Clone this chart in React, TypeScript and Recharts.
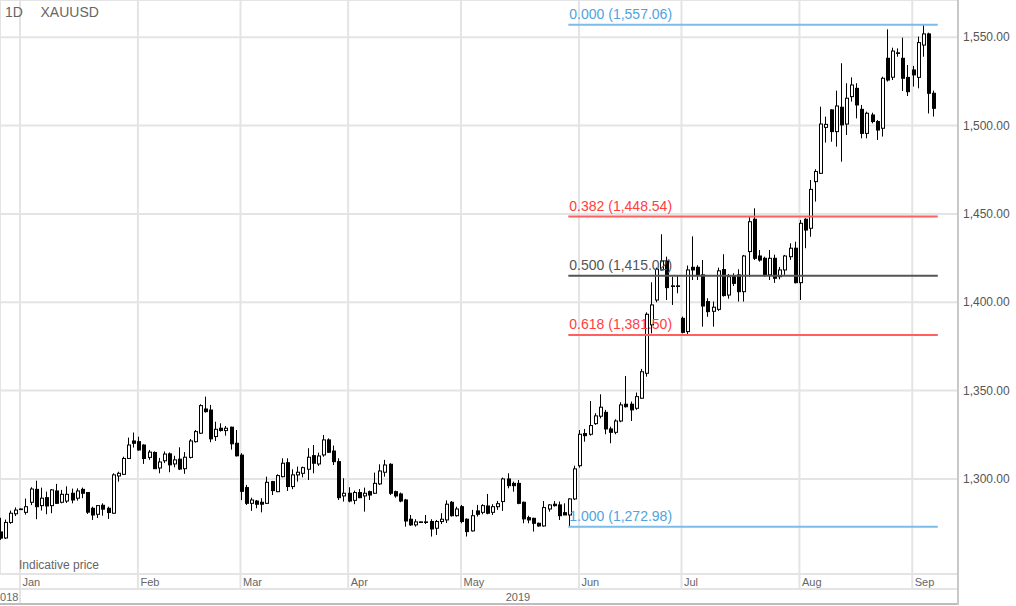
import React from "react";
import { ComposedChart, Bar, XAxis, YAxis, CartesianGrid, ReferenceLine } from "recharts";

// daily XAUUSD candles, 26 Dec 2018 .. 6 Sep 2019 (bar index = position)
const opens = [
  1270.0, 1266.6, 1275.4, 1280.3, 1282.8, 1281.1, 1286.8, 1294.1, 1284.9, 1289.4,
  1284.9, 1293.2, 1286.8, 1287.5, 1291.9, 1289.1, 1294.1, 1292.3, 1283.4, 1280.0,
  1285.1, 1283.4, 1280.6, 1301.7, 1302.6, 1311.6, 1321.5, 1321.1, 1319.2, 1312.2,
  1315.0, 1306.2, 1310.3, 1314.2, 1308.5, 1311.2, 1305.8, 1312.2, 1321.1, 1325.9,
  1339.6, 1339.0, 1324.0, 1328.7, 1327.4, 1329.3, 1320.2, 1313.5, 1295.1, 1286.2,
  1287.5, 1286.8, 1286.2, 1298.5, 1292.8, 1301.3, 1309.2, 1295.7, 1302.3, 1303.2,
  1305.5, 1313.2, 1308.5, 1313.6, 1322.1, 1315.8, 1309.8, 1290.4, 1291.9, 1287.9,
  1292.3, 1290.4, 1292.8, 1291.9, 1297.2, 1303.8, 1308.3, 1292.8, 1291.5, 1288.1,
  1277.2, 1274.0, 1275.6, 1275.5, 1275.9, 1272.1, 1275.9, 1276.8, 1286.8, 1279.2,
  1284.3, 1277.2, 1270.6, 1281.9, 1281.1, 1284.7, 1281.1, 1284.3, 1287.2, 1300.0,
  1297.5, 1297.5, 1286.8, 1278.1, 1277.7, 1274.9, 1273.4, 1283.0, 1285.7, 1285.3,
  1280.9, 1279.6, 1288.7, 1307.5, 1325.7, 1325.3, 1331.3, 1335.5, 1337.7, 1328.3,
  1326.4, 1332.8, 1342.3, 1342.3, 1340.0, 1345.7, 1359.8, 1387.2, 1401.3, 1418.3,
  1423.4, 1409.1, 1409.1, 1390.9, 1383.4, 1419.8, 1419.8, 1415.5, 1400.4, 1394.9,
  1396.0, 1418.5, 1404.1, 1414.9, 1415.5, 1406.0, 1428.7, 1447.0, 1426.2, 1424.9,
  1415.5, 1424.9, 1414.5, 1418.3, 1425.8, 1430.6, 1411.1, 1447.0, 1441.9, 1468.3,
  1473.0, 1499.0, 1508.9, 1496.6, 1510.4, 1500.9, 1516.4, 1521.1, 1509.2, 1495.6,
  1506.0, 1502.3, 1498.5, 1538.1, 1527.4, 1540.9, 1538.1, 1527.3, 1531.5, 1527.3,
  1545.6, 1551.9, 1518.3,
];
const highs = [
  1278.0, 1277.0, 1282.1, 1283.9, 1283.3, 1288.9, 1295.3, 1299.0, 1295.1, 1292.8,
  1294.3, 1297.2, 1293.8, 1295.8, 1294.5, 1294.7, 1295.1, 1292.6, 1284.3, 1285.2,
  1286.2, 1284.3, 1303.2, 1304.1, 1312.6, 1323.4, 1326.3, 1323.9, 1319.6, 1316.4,
  1315.6, 1311.9, 1315.6, 1315.0, 1313.1, 1317.9, 1315.2, 1322.6, 1327.7, 1342.3,
  1346.6, 1341.9, 1332.4, 1331.5, 1330.0, 1329.6, 1327.7, 1314.6, 1296.6, 1289.4,
  1288.1, 1289.1, 1301.3, 1298.9, 1302.6, 1311.7, 1311.7, 1305.5, 1307.0, 1307.0,
  1317.4, 1319.2, 1314.9, 1324.9, 1323.0, 1318.9, 1311.7, 1300.4, 1295.3, 1293.4,
  1294.3, 1295.1, 1293.4, 1303.6, 1308.3, 1310.8, 1308.9, 1293.4, 1292.3, 1288.7,
  1279.6, 1277.2, 1275.9, 1279.6, 1277.2, 1276.8, 1280.6, 1287.9, 1287.5, 1284.3,
  1285.3, 1277.7, 1282.5, 1285.3, 1285.7, 1291.5, 1285.7, 1287.5, 1300.8, 1303.2,
  1298.5, 1299.4, 1287.2, 1279.2, 1278.1, 1275.3, 1287.5, 1285.7, 1287.5, 1287.2,
  1286.2, 1289.0, 1307.5, 1327.7, 1328.3, 1344.1, 1337.2, 1347.9, 1339.1, 1329.6,
  1333.8, 1343.4, 1358.3, 1343.8, 1348.9, 1362.3, 1394.3, 1411.3, 1419.6, 1438.5,
  1425.8, 1414.5, 1415.4, 1391.9, 1420.8, 1437.3, 1421.0, 1423.9, 1402.3, 1400.4,
  1419.6, 1427.2, 1416.0, 1416.4, 1418.7, 1426.8, 1448.5, 1453.2, 1429.6, 1425.8,
  1429.6, 1427.0, 1420.0, 1426.8, 1433.4, 1434.3, 1446.6, 1447.6, 1469.2, 1475.3,
  1510.7, 1505.1, 1509.2, 1519.8, 1535.3, 1524.0, 1527.3, 1524.0, 1511.7, 1507.9,
  1507.3, 1503.2, 1527.7, 1554.5, 1544.1, 1543.7, 1549.8, 1534.3, 1533.8, 1550.4,
  1557.0, 1552.6, 1519.8,
];
const lows = [
  1265.5, 1266.0, 1274.6, 1279.0, 1282.5, 1279.8, 1285.2, 1277.2, 1282.1, 1280.0,
  1280.6, 1285.8, 1286.2, 1286.4, 1286.2, 1287.7, 1289.1, 1280.2, 1276.8, 1277.9,
  1279.2, 1277.4, 1280.2, 1298.5, 1302.3, 1311.3, 1317.8, 1316.0, 1308.5, 1310.8,
  1305.6, 1303.2, 1309.0, 1303.8, 1306.6, 1305.1, 1302.9, 1311.6, 1320.6, 1325.5,
  1337.5, 1320.8, 1321.5, 1326.8, 1324.5, 1316.6, 1312.7, 1288.0, 1285.3, 1281.9,
  1283.4, 1281.1, 1285.9, 1290.9, 1292.5, 1300.9, 1293.2, 1294.2, 1298.5, 1300.9,
  1299.4, 1303.2, 1307.4, 1312.6, 1314.9, 1307.9, 1288.1, 1287.2, 1286.8, 1285.7,
  1289.1, 1281.5, 1288.1, 1291.5, 1296.6, 1301.3, 1290.9, 1289.4, 1286.8, 1273.0,
  1273.4, 1273.0, 1275.3, 1274.5, 1267.4, 1268.3, 1274.5, 1275.1, 1278.7, 1278.7,
  1274.9, 1267.4, 1270.2, 1278.7, 1280.0, 1280.0, 1279.6, 1282.5, 1281.9, 1294.7,
  1292.8, 1285.7, 1274.9, 1274.9, 1270.2, 1273.0, 1273.0, 1281.5, 1284.3, 1276.8,
  1279.6, 1273.0, 1288.1, 1306.4, 1321.1, 1324.5, 1330.6, 1334.3, 1325.3, 1320.2,
  1325.3, 1332.1, 1340.4, 1332.8, 1339.1, 1345.3, 1357.9, 1382.4, 1400.0, 1418.0,
  1401.3, 1398.5, 1405.1, 1382.4, 1381.9, 1412.6, 1412.6, 1386.2, 1391.8, 1386.2,
  1395.1, 1403.2, 1402.0, 1409.2, 1400.4, 1400.4, 1414.5, 1423.9, 1423.0, 1414.5,
  1412.6, 1411.0, 1413.0, 1415.5, 1424.0, 1410.7, 1401.3, 1430.6, 1437.1, 1457.0,
  1472.6, 1490.4, 1490.9, 1488.1, 1479.6, 1494.7, 1513.6, 1504.1, 1492.8, 1492.8,
  1501.3, 1491.9, 1493.8, 1524.9, 1525.8, 1539.0, 1519.6, 1516.8, 1522.1, 1521.1,
  1539.0, 1506.9, 1505.1,
];
const closes = [
  1266.5, 1275.4, 1280.6, 1282.4, 1283.0, 1284.3, 1294.3, 1284.3, 1289.1, 1284.7,
  1293.8, 1286.2, 1291.3, 1291.3, 1288.1, 1293.2, 1291.9, 1281.2, 1279.6, 1284.9,
  1282.9, 1281.0, 1302.3, 1303.2, 1311.6, 1319.2, 1320.2, 1316.4, 1311.6, 1315.2,
  1305.8, 1309.6, 1314.1, 1308.0, 1310.8, 1305.6, 1312.3, 1321.5, 1326.8, 1341.5,
  1338.1, 1322.7, 1328.1, 1327.4, 1328.7, 1319.9, 1313.1, 1293.0, 1286.2, 1288.1,
  1285.7, 1285.7, 1298.1, 1293.4, 1301.9, 1308.9, 1295.7, 1302.3, 1303.8, 1306.4,
  1312.3, 1308.9, 1313.0, 1322.1, 1315.1, 1309.8, 1289.4, 1291.9, 1287.5, 1292.3,
  1289.4, 1291.9, 1290.9, 1297.5, 1304.5, 1307.9, 1291.9, 1290.4, 1287.5, 1276.2,
  1274.0, 1275.7, 1275.7, 1275.7, 1271.7, 1275.9, 1277.2, 1285.7, 1279.2, 1283.0,
  1275.9, 1270.2, 1279.2, 1280.0, 1284.9, 1280.6, 1284.3, 1286.0, 1300.0, 1296.2,
  1296.2, 1286.2, 1277.4, 1276.8, 1274.9, 1273.4, 1283.8, 1285.3, 1284.9, 1279.2,
  1279.6, 1288.7, 1305.7, 1325.3, 1324.5, 1330.2, 1335.7, 1340.6, 1328.3, 1326.4,
  1332.8, 1341.9, 1340.9, 1339.1, 1346.6, 1360.7, 1393.2, 1398.5, 1418.7, 1423.4,
  1408.3, 1409.3, 1409.3, 1383.0, 1418.3, 1418.3, 1415.5, 1397.9, 1394.7, 1397.2,
  1417.8, 1403.8, 1414.5, 1410.7, 1406.0, 1426.2, 1445.6, 1424.9, 1423.9, 1415.5,
  1424.9, 1413.6, 1418.3, 1426.2, 1430.6, 1411.1, 1444.7, 1440.9, 1463.9, 1474.0,
  1500.9, 1500.7, 1496.6, 1511.1, 1500.4, 1515.5, 1523.0, 1511.7, 1495.6, 1507.0,
  1502.3, 1497.5, 1526.8, 1525.8, 1542.2, 1541.2, 1526.8, 1519.2, 1528.7, 1547.0,
  1551.9, 1518.3, 1509.8,
];

// first bar index of each month and its label
const monthStarts = [4, 27, 47, 68, 90, 113, 133, 156, 178];
const monthLabels = ["Jan", "Feb", "Mar", "Apr", "May", "Jun", "Jul", "Aug", "Sep"];
const priceTicks = [1300, 1350, 1400, 1450, 1500, 1550];

// fibonacci retracement drawn from the late-May low to the early-Sep high
const fibRatios = ["0.000", "0.382", "0.500", "0.618", "1.000"];
const fibPrices = [1557.06, 1448.54, 1415.02, 1381.5, 1272.98];
const fibFromBar = 110.75;
const fibToBar = 182.8;

const fibLine = ["#7cbce9", "#ff5f5f", "#555555", "#ff5f5f", "#7cbce9"];
const fibText = ["#4fa3e0", "#ff3d3d", "#555555", "#ff3d3d", "#4fa3e0"];

const GRID = "#e4e4e4";
const FONT = "'Liberation Sans', Arial, sans-serif";

const candles = opens.map((o, i) => ({
  i,
  o,
  h: highs[i],
  l: lows[i],
  c: closes[i],
  range: [lows[i], highs[i]],
}));

const tickShift = 0.18;

function fmtPrice(v: number) {
  const th = Math.floor(v / 1000);
  const rest = String(Math.round(v % 1000)).padStart(3, "0");
  return `${th},${rest}.00`;
}

function fmtFib(v: number) {
  const [a, b] = v.toFixed(2).split(".");
  const n = Number(a);
  return `${Math.floor(n / 1000)},${String(n % 1000).padStart(3, "0")}.${b}`;
}

function Candle(props: any) {
  const { x, y, width, height, payload } = props;
  if (x == null || payload == null) return null;
  const cx = Math.round(x + width / 2);
  const span = payload.h - payload.l || 1;
  const py = (v: number) => y + ((payload.h - v) / span) * height;
  const top = py(Math.max(payload.o, payload.c));
  const bot = py(Math.min(payload.o, payload.c));
  const up = payload.c >= payload.o;
  return (
    <g>
      <line x1={cx - 0.5} x2={cx - 0.5} y1={y} y2={y + height} stroke="#000" strokeWidth={1} />
      <rect
        x={cx - 1.5}
        y={top}
        width={3}
        height={Math.max(bot - top, 0.6)}
        fill={up ? "#fff" : "#000"}
        stroke="#000"
        strokeWidth={1}
      />
    </g>
  );
}

function MonthTick(props: any) {
  const { x, y, payload } = props;
  const k = monthStarts.findIndex((m) => Math.abs(m - tickShift - payload.value) < 0.01);
  const label = monthLabels[k] ?? "";
  return (
    <g>
      <line x1={x} x2={x} y1={y} y2={y + (k === 0 ? 30 : 15)} stroke={GRID} strokeWidth={2} />
      <text x={x + 2.5} y={y + 11.5} fontSize={11} fill="#666" fontFamily={FONT}>
        {label}
      </text>
      {k === 0 && (
        <>
          <text x={x - 1.5} y={y + 27} fontSize={11} fill="#666" fontFamily={FONT} textAnchor="end">
            2018
          </text>
          <text x={(x + 1016) / 2} y={y + 27} fontSize={11} fill="#666" fontFamily={FONT} textAnchor="middle">
            2019
          </text>
        </>
      )}
    </g>
  );
}

function PriceTick(props: any) {
  const { x, y, payload } = props;
  return (
    <text x={x} y={y + 4} fontSize={12} fill="#555" fontFamily={FONT} textAnchor="start">
      {fmtPrice(payload.value)}
    </text>
  );
}

function fibLabel(k: number) {
  return (props: any) => {
    const vb = props.viewBox || {};
    return (
      <text x={(vb.x ?? 0) + 1} y={(vb.y ?? 0) - 6} fontSize={14} fill={fibText[k]} fontFamily={FONT}>
        {`${fibRatios[k]} (${fmtFib(fibPrices[k])})`}
      </text>
    );
  };
}

export default function App() {
  return (
    <div
      style={{
        position: "absolute",
        left: 0,
        top: 0,
        width: 1016,
        height: 606,
        background: "#fff",
        fontFamily: FONT,
        overflow: "hidden",
      }}
    >
      <ComposedChart width={1016} height={606} data={candles} margin={{ top: 0, right: 0, bottom: 0, left: 0 }}>
        <CartesianGrid stroke={GRID} strokeWidth={2} />
        <XAxis
          dataKey="i"
          type="number"
          domain={[-0.076, 186.74]}
          allowDataOverflow
          ticks={monthStarts.map((m) => m - tickShift)}
          interval={0}
          height={32}
          tickSize={0}
          tickMargin={0}
          tickLine={false}
          axisLine={{ stroke: GRID, strokeWidth: 2 }}
          tick={<MonthTick />}
        />
        <YAxis
          orientation="right"
          type="number"
          domain={[1246.2, 1571.1]}
          allowDataOverflow
          ticks={priceTicks}
          interval={0}
          width={58}
          tickSize={0}
          tickMargin={5}
          tickLine={false}
          axisLine={false}
          tick={<PriceTick />}
        />
        <Bar dataKey="range" barSize={4} shape={<Candle />} isAnimationActive={false} />
        {fibPrices.map((p, k) => (
          <ReferenceLine
            key={fibRatios[k]}
            segment={[
              { x: fibFromBar, y: p },
              { x: fibToBar, y: p },
            ]}
            stroke={fibLine[k]}
            strokeWidth={2}
            label={fibLabel(k)}
          />
        ))}
      </ComposedChart>
      <svg
        width={1016}
        height={606}
        style={{ position: "absolute", left: 0, top: 0, pointerEvents: "none" }}
      >
        <line x1={0} x2={958} y1={589} y2={589} stroke={GRID} strokeWidth={2} />
        <line x1={0} x2={959} y1={604} y2={604} stroke="#bdbdbd" strokeWidth={2} />
        <line x1={958} x2={958} y1={0} y2={605} stroke="#c8c8c8" strokeWidth={2} />
        <text x={5} y={17} fontSize={14} fill="#666" fontFamily={FONT}>
          1D
        </text>
        <text x={40.5} y={17} fontSize={14} fill="#666" fontFamily={FONT}>
          XAUUSD
        </text>
        <text x={19} y={569} fontSize={12} fill="#666" fontFamily={FONT}>
          Indicative price
        </text>
      </svg>
    </div>
  );
}
